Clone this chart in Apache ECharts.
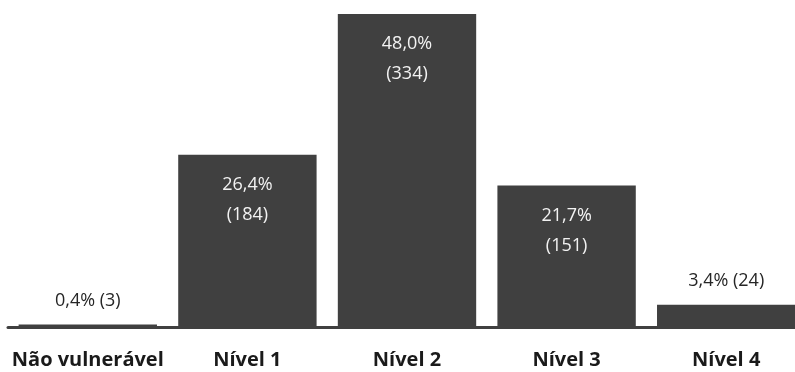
<!DOCTYPE html>
<html><head><meta charset="utf-8">
<script src="https://cdn.jsdelivr.net/npm/echarts@6/dist/echarts.min.js"></script>
<style>html,body{margin:0;padding:0;background:#fff;overflow:hidden;width:795px;height:372px}#c{width:806px;height:372px}</style>
</head><body><div id="c"></div>
<script>
const categories = ['Não vulnerável', 'Nível 1', 'Nível 2', 'Nível 3', 'Nível 4'];
const percents = [0.4, 26.4, 48.0, 21.7, 3.4];
const counts = [3, 184, 334, 151, 24];

const fmt = v => v.toFixed(1).replace('.', ',') + '%';
const FONT = '"Open Sans", "Noto Sans", sans-serif';

const data = percents.map((v, i) => {
  const big = v >= 10;
  return {
    value: v,
    label: big ? {
      show: true, position: 'insideTop', distance: 15,
      formatter: () => fmt(v) + '\n(' + counts[i] + ')',
      color: '#f2f2f2', fontSize: 18, lineHeight: 30, fontFamily: FONT
    } : {
      show: true, position: 'top', distance: 13,
      formatter: () => fmt(v) + ' (' + counts[i] + ')',
      color: '#262626', fontSize: 18, lineHeight: 22, fontFamily: FONT
    }
  };
});

const chart = echarts.init(document.getElementById('c'), null, {renderer: 'canvas'});
chart.setOption({
  animation: false,
  grid: {left: 8, right: 0, top: 14, height: 313, containLabel: false},
  xAxis: {
    type: 'category', data: categories,
    axisLine: {show: true, lineStyle: {color: '#404040', width: 3}},
    axisTick: {show: false},
    axisLabel: {color: '#1a1a1a', fontSize: 20, fontWeight: 'bold', fontFamily: FONT, margin: 23, interval: 0}
  },
  yAxis: {type: 'value', min: 0, max: 48, show: false, splitLine: {show: false}},
  series: [{
    type: 'bar', data: data, barCategoryGap: '13.3%',
    itemStyle: {color: '#404040'}
  }]
});
</script></body></html>
